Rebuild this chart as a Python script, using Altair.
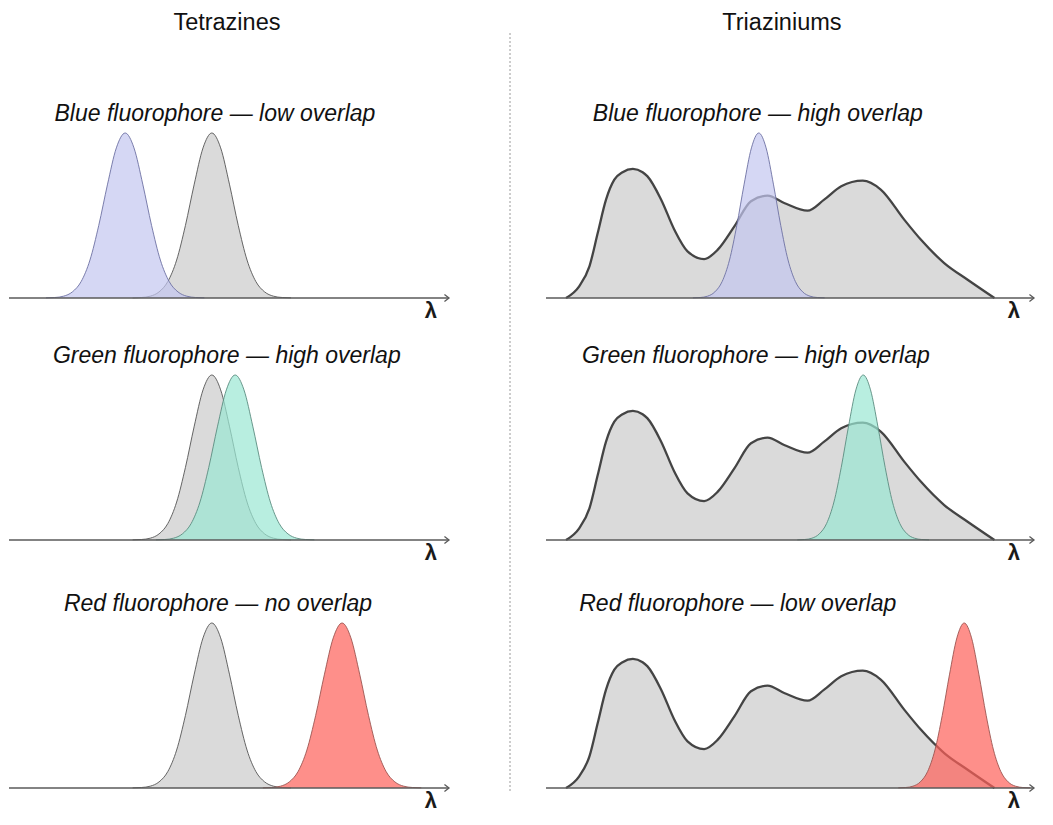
import altair as alt
import pandas as pd

# ---------------- data ----------------
# normalised peak profile of the narrow emission/absorption bands
PEAK_Y = [0.001, 0.003, 0.011, 0.037, 0.10, 0.23, 0.44, 0.69, 0.91, 1.0,
          0.91, 0.69, 0.44, 0.23, 0.10, 0.037, 0.011, 0.003, 0.001]

# Tetrazines column (x in arbitrary wavelength units 0..100)
TET_GRAY_X = [28.1, 30.1, 32.1, 34.1, 36.1, 38.1, 40.1, 42.1, 44.1, 46.1,
              48.1, 50.1, 52.1, 54.1, 56.1, 58.1, 60.1, 62.1, 64.1]
TET_BLUE_X = [8.4, 10.4, 12.4, 14.4, 16.4, 18.4, 20.4, 22.4, 24.4, 26.4,
              28.4, 30.4, 32.4, 34.4, 36.4, 38.4, 40.4, 42.4, 44.4]
TET_GREEN_X = [33.4, 35.4, 37.4, 39.4, 41.4, 43.4, 45.4, 47.4, 49.4, 51.4,
               53.4, 55.4, 57.4, 59.4, 61.4, 63.4, 65.4, 67.4, 69.4]
TET_RED_X = [57.7, 59.7, 61.7, 63.7, 65.7, 67.7, 69.7, 71.7, 73.7, 75.7,
             77.7, 79.7, 81.7, 83.7, 85.7, 87.7, 89.7, 91.7, 93.7]

# Triaziniums column
TRI_GRAY_X = [4.1, 6.8, 8.9, 10.6, 12.3, 14.0, 15.7, 17.8, 19.8, 20.8, 23.6, 26.3,
              29.0, 32.4, 35.2, 38.6, 42.0, 45.4, 48.8, 53.6, 57.0, 60.5,
              64.9, 68.6, 73.4, 76.8, 81.6, 86.4, 91.9]
TRI_GRAY_Y = [0.0, 0.071, 0.192, 0.394, 0.596, 0.717, 0.762, 0.782, 0.762, 0.737, 0.596, 0.414,
              0.283, 0.236, 0.293, 0.434, 0.586, 0.620, 0.576, 0.529, 0.596, 0.677,
              0.711, 0.657, 0.475, 0.354, 0.212, 0.111, 0.0]
TRI_BLUE_X = [30.1, 31.6, 33.1, 34.6, 36.1, 37.6, 39.1, 40.6, 42.1, 43.6,
              45.1, 46.6, 48.1, 49.6, 51.1, 52.6, 54.1, 55.6, 57.1]
TRI_GREEN_X = [51.5, 53.0, 54.5, 56.0, 57.5, 59.0, 60.5, 62.0, 63.5, 65.0,
               66.5, 68.0, 69.5, 71.0, 72.5, 74.0, 75.5, 77.0, 78.5]
TRI_RED_X = [72.2, 73.7, 75.2, 76.7, 78.2, 79.7, 81.2, 82.7, 84.2, 85.7,
             87.2, 88.7, 90.2, 91.7, 93.2, 94.7, 96.2, 97.7, 99.2]

HEADERS = ["Tetrazines", "Triaziniums"]
TITLES_LEFT = ["Blue fluorophore \u2014 low overlap",
               "Green fluorophore \u2014 high overlap",
               "Red fluorophore \u2014 no overlap"]
TITLES_RIGHT = ["Blue fluorophore \u2014 high overlap",
                "Green fluorophore \u2014 high overlap",
                "Red fluorophore \u2014 low overlap"]

# ---------------- layout / style ----------------
TITLE_X_LEFT = [46.8, 49.5, 47.5]
TITLE_X_RIGHT = [43.4, 43.0, 39.3]
FONT = "Liberation Sans"
PANEL_H = 230
LEFT_W = 440
RIGHT_W = 488

STYLES = {
    "blue": ("#c3c6ef", "#6d71a3"),
    "green": ("#9ae7d3", "#5b8c80"),
    "red": ("#fe5f58", "#9c5550"),
}

XS = alt.Scale(domain=[0, 100], nice=False, zero=False)
YS = alt.Scale(domain=[-0.1818, 1.2121], nice=False, zero=False)


def enc():
    return dict(x=alt.X("x:Q", scale=XS, axis=None),
                y=alt.Y("y:Q", scale=YS, axis=None))


def curve(xv, yv, fill, stroke, sw, opacity):
    df = pd.DataFrame({"x": xv, "y": yv})
    area = alt.Chart(df).mark_area(color=fill, opacity=opacity,
                                   interpolate="monotone").encode(**enc())
    line = alt.Chart(df).mark_line(color=stroke, strokeWidth=sw,
                                   interpolate="monotone").encode(**enc())
    return [area, line]


def panel(gray, fluor_x, fluor, title, title_x, width, tri):
    gx, gy = gray
    if tri:
        layers = curve(gx, gy, "#dadada", "#444444", 2.3, 1.0)
    else:
        layers = curve(gx, gy, "#dadada", "#555555", 0.9, 1.0)
    fill, stroke = STYLES[fluor]
    layers += curve(fluor_x, PEAK_Y, fill, stroke, 0.9, 0.7)

    axis_df = pd.DataFrame({"x": [0], "x2": [100], "y": [0]})
    axis_line = alt.Chart(axis_df).mark_rule(color="#5a5a5a", strokeWidth=1.5).encode(
        x=alt.X("x:Q", scale=XS, axis=None), x2="x2:Q",
        y=alt.Y("y:Q", scale=YS, axis=None))
    arrow = alt.Chart(pd.DataFrame({"x": [100], "y": [0]})).mark_point(
        shape="M-1.3,-1L0,0L-1.3,1", filled=False, size=49,
        color="#5a5a5a", strokeWidth=1.3, opacity=1).encode(**enc())
    lam = alt.Chart(pd.DataFrame({"x": [95.9], "y": [-0.121], "t": ["\u03bb"]})).mark_text(
        font=FONT, fontSize=22, fontWeight="bold", baseline="alphabetic", align="center",
        color="#1a1a1a").encode(text="t:N", **enc())
    ttl = alt.Chart(pd.DataFrame({"x": [title_x], "y": [1.075], "t": [title]})).mark_text(
        font=FONT, fontSize=23, fontStyle="italic", baseline="alphabetic",
        align="center", color="#111111").encode(text="t:N", **enc())
    layers += [axis_line, arrow, lam, ttl]
    return alt.layer(*layers).properties(width=width, height=PANEL_H)


left_panels = [
    panel((TET_GRAY_X, PEAK_Y), TET_BLUE_X, "blue", TITLES_LEFT[0], TITLE_X_LEFT[0], LEFT_W, False),
    panel((TET_GRAY_X, PEAK_Y), TET_GREEN_X, "green", TITLES_LEFT[1], TITLE_X_LEFT[1], LEFT_W, False),
    panel((TET_GRAY_X, PEAK_Y), TET_RED_X, "red", TITLES_LEFT[2], TITLE_X_LEFT[2], LEFT_W, False),
]
right_panels = [
    panel((TRI_GRAY_X, TRI_GRAY_Y), TRI_BLUE_X, "blue", TITLES_RIGHT[0], TITLE_X_RIGHT[0], RIGHT_W, True),
    panel((TRI_GRAY_X, TRI_GRAY_Y), TRI_GREEN_X, "green", TITLES_RIGHT[1], TITLE_X_RIGHT[1], RIGHT_W, True),
    panel((TRI_GRAY_X, TRI_GRAY_Y), TRI_RED_X, "red", TITLES_RIGHT[2], TITLE_X_RIGHT[2], RIGHT_W, True),
]


def column(panels, header, dx):
    top_two = alt.vconcat(panels[0], panels[1], spacing=12)
    return alt.vconcat(top_two, panels[2], spacing=18,
                       title=alt.Title(header, offset=64, dx=dx))


left_col = column(left_panels, HEADERS[0], -3)
right_col = column(right_panels, HEADERS[1], -9)

sep = alt.Chart(pd.DataFrame({"a": [0]})).mark_rule(
    color="#9a9a9a", strokeWidth=1, strokeDash=[2, 2]).encode(
    x=alt.value(38), y=alt.value(-65), y2=alt.value(695)).properties(width=53, height=690)

chart = alt.hconcat(left_col, sep, right_col, spacing=20).properties(
    padding={"left": 0, "top": 2, "right": 0, "bottom": 0}
).configure_view(stroke=None).configure_title(
    font=FONT, fontSize=23.5, fontWeight="normal", color="#111111", anchor="middle"
)

chart.save("out.html", embed_options={"renderer": "svg", "actions": False})
